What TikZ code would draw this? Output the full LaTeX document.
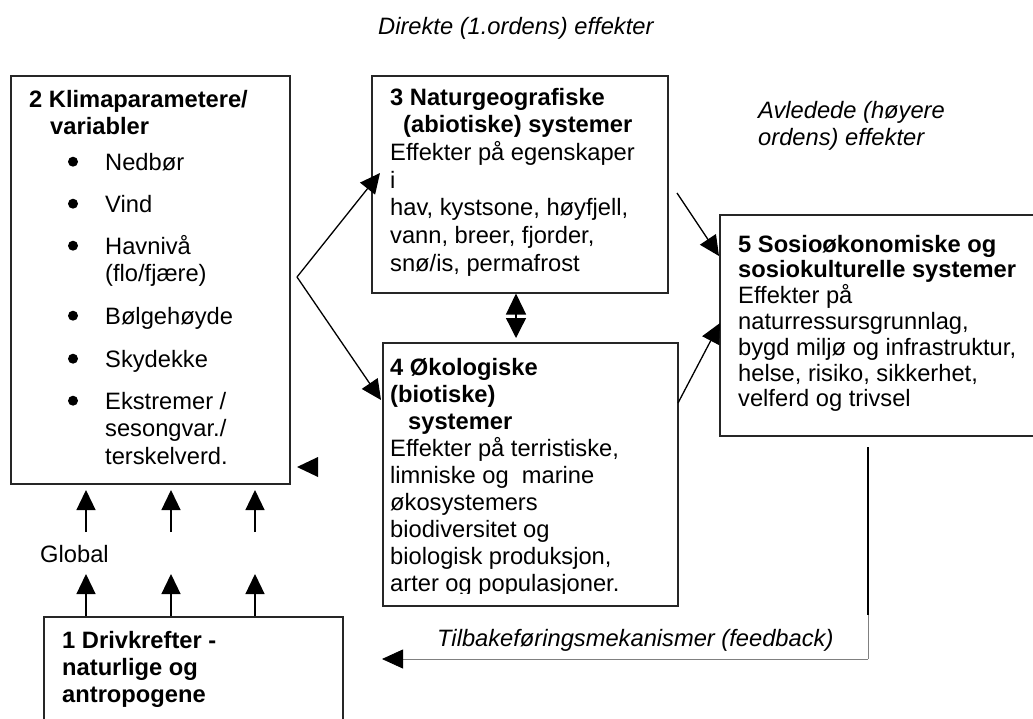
\documentclass[tikz,border=0pt]{standalone}
\usepackage{fontspec}
\setmainfont{Liberation Sans}
\usetikzlibrary{arrows.meta,calc}

\begin{document}
\begin{tikzpicture}[x=1pt,y=-1pt,
  box/.style={draw=black!85, line width=1.5pt, anchor=north west, inner sep=0pt},
  txt/.style={anchor=north west, inner sep=0pt, align=left,
              font=\fontsize{23.7}{#1}\selectfont},
  txt/.default=27.5,
  lbl/.style={anchor=base west, inner sep=0pt, font=\fontsize{23.7}{27}\selectfont},
  arr/.style={line width=1.3pt, -{Triangle[length=20pt,width=19pt]}},
  dot/.style={fill=black}
]
\useasboundingbox (0,0) rectangle (1033,718);

% ---------- boxes ----------
\node[box, minimum width=279pt, minimum height=408pt] (b2) at (10,75) {};
\node[box, minimum width=296pt, minimum height=217pt] (b3) at (371,75) {};
\node[box, minimum width=295pt, minimum height=263pt] (b4) at (382,342) {};
\node[box, minimum width=330pt, minimum height=221pt] (b5) at (719,214) {};
\node[box, minimum width=299pt, minimum height=130pt] (b1) at (43,616) {};

% ---------- box 2: climate parameters ----------
\node[txt] (t2) at (29,87.75) {\strut\textbf{2 Klimaparametere/}\\\hspace*{21pt}\textbf{variabler}};
\fill[dot] (73,161.7) circle (5pt);
\node[txt] (i1) at (105,150.75) {\strut Nedbør};
\fill[dot] (73,203.7) circle (5pt);
\node[txt] (i2) at (105,192.75) {\strut Vind};
\fill[dot] (73,245.7) circle (5pt);
\node[txt] (i3) at (105,234.75) {\strut Havnivå\\(flo/fjære)};
\fill[dot] (73,315.7) circle (5pt);
\node[txt] (i4) at (105,304.75) {\strut Bølgehøyde};
\fill[dot] (73,358.7) circle (5pt);
\node[txt] (i5) at (105,347.75) {\strut Skydekke};
\fill[dot] (73,400.7) circle (5pt);
\node[txt] (i6) at (105,389.75) {\strut Ekstremer /\\sesongvar./\\terskelverd.};

% ---------- box 3 ----------
\node[txt=27.7] (t3) at (390,85.6) {\strut\textbf{3 Naturgeografiske}\\
  \hspace*{13pt}\textbf{(abiotiske) systemer}\\
  Effekter på egenskaper\\i\\hav, kystsone, høyfjell,\\vann, breer, fjorder,\\snø/is, permafrost};

% ---------- box 4 (last line runs into the frame) ----------
\begin{scope}
  \clip (383,343) rectangle (676,593);
  \node[txt=27.1] (t4) at (390,356) {\strut\textbf{4 Økologiske}\\\textbf{(biotiske)}\\
    \hspace*{18pt}\textbf{systemer}\\Effekter på terristiske,\\limniske og\ \ marine\\
    økosystemers\\biodiversitet og\\biologisk produksjon,\\arter og populasjoner.};
\end{scope}

% ---------- box 5 ----------
\node[txt=25.8] (t5) at (738,233.9) {\strut\textbf{5 Sosioøkonomiske og}\\
  \textbf{sosiokulturelle systemer}\\Effekter på\\naturressursgrunnlag,\\
  bygd miljø og infrastruktur,\\helse, risiko, sikkerhet,\\velferd og trivsel};

% ---------- box 1 ----------
\node[txt=27] (t1) at (62,629.1) {\strut\textbf{1 Drivkrefter -}\\\textbf{naturlige og}\\\textbf{antropogene}};

% ---------- free labels ----------
\node[lbl] (direct) at (378,34) {\itshape Direkte (1.ordens) effekter};
\node[txt=27, font=\fontsize{23.7}{27}\selectfont\itshape] (derived) at (758,99.1)
  {\strut Avledede (høyere\\ordens) effekter};
\node[lbl] (global) at (40,562) {Global};
\node[lbl] (feedback) at (437,646) {\itshape Tilbakeføringsmekanismer (feedback)};

% ---------- connectors ----------
\coordinate (fork) at (297,277);
\coordinate (in3) at (380,173);
\coordinate (in4) at (381,400);
\draw[arr] (fork) -- (in3);
\draw[arr] (fork) -- (in4);

\coordinate (out3) at (677,193);
\coordinate (in5a) at (719,256);
\coordinate (out4) at (678,403);
\coordinate (in5b) at (720,323);
\draw[arr] (out3) -- (in5a);
\draw[arr] (out4) -- (in5b);

% two-way link between boxes 3 and 4
\draw[line width=1.3pt, {Triangle[length=21pt,width=20pt]}-{Triangle[length=20pt,width=20pt]}]
  (516,292 |- b3.south) -- (516,338);

% drivers push upward into the climate box
\foreach \x in {86,171,255} {
  \draw[arr] (\x,532) -- (\x,490);
  \draw[arr] (\x,0 |- b1.north) -- (\x,574);
}

% lone arrow head beside box 2
\fill (297,467) -- (318,457) -- (318,477) -- cycle;

% feedback path
\coordinate (fbtop) at (868,447);
\coordinate (fbmid) at (868,615);
\coordinate (fbcorner) at (868,659);
\coordinate (fbend) at (382,659);
\draw[line width=1.3pt] (fbtop) -- (fbmid);
\draw[line width=0.8pt, black!50] (fbmid) -- (fbcorner);
\draw[line width=0.8pt, black!50, -{Triangle[length=21pt,width=19pt,color=black]}] (fbcorner) -- (fbend);
\end{tikzpicture}
\end{document}
